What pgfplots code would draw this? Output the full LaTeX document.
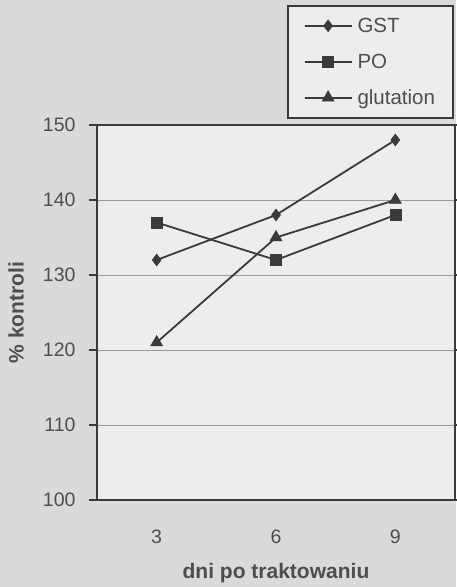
\documentclass[border=0pt]{standalone}
\usepackage{pgfplots}
\pgfplotsset{compat=1.18}
\usepackage{fontspec}
\setmainfont{Liberation Sans}
\definecolor{bgpage}{HTML}{DADADA}
\definecolor{bgplot}{HTML}{EDEDED}
\definecolor{ink}{HTML}{3A3A3A}
\definecolor{gridc}{HTML}{9A9A9A}
\begin{document}
\begin{tikzpicture}
\useasboundingbox (0pt,0pt) rectangle (456pt,587pt);
\fill[bgpage] (0pt,0pt) rectangle (456pt,587pt);
\begin{axis}[
  at={(97pt,87pt)}, anchor=south west,
  width=358pt, height=375pt, scale only axis,
  axis background/.style={fill=bgplot},
  xmin=0.5, xmax=3.5, ymin=100, ymax=150,
  xtick={1,2,3}, xticklabels={3,6,9},
  minor xtick={0.5,1.5,2.5,3.5},
  ytick={100,110,...,150},
  tick align=outside,
  major tick length=8pt, minor tick length=7pt,
  xtick style={draw=none},
  minor x tick style={ink, line width=1.8pt},
  ytick style={ink, line width=1.2pt},
  ymajorgrids, grid style={gridc, line width=0.9pt},
  axis line style={ink, line width=2pt},
  /pgf/number format/assume math mode=true,
  tick label style={font=\fontsize{19.5}{21}\selectfont, text=ink!90},
  xticklabel style={yshift=-18pt},
  yticklabel style={xshift=-10pt},
  xlabel={\bfseries dni po traktowaniu},
  ylabel={\bfseries\% kontroli},
  label style={font=\fontsize{21}{23}\selectfont\bfseries, text=ink!90},
  xlabel style={at={(axis description cs:0.5,0)}, anchor=center, yshift=-73pt},
  ylabel style={at={(axis description cs:0,0.5)}, anchor=center, yshift=81pt},
  legend style={at={(axis description cs:0.997,1.32)}, anchor=north east,
    fill=bgplot, draw=ink, line width=1.8pt,
    font=\fontsize{20.5}{22}\selectfont, text=ink!90,
    row sep=16pt, inner xsep=16pt, inner ysep=10pt,
    nodes={inner sep=2pt}},
  legend cell align=left,
  legend image code/.code={
    \draw[#1] (0pt,0pt) -- (47pt,0pt);
    \draw[#1, mark repeat=2, mark phase=2] plot coordinates {(0pt,0pt) (23.5pt,0pt) (47pt,0pt)};
  },
]
\addplot[ink, line width=1.8pt, mark=diamond*, mark size=6pt, mark options={solid, fill=ink, line width=0.5pt}]
  coordinates {(1,132) (2,138) (3,148)};
\addlegendentry{\hspace{3pt}GST}
\addplot[ink, line width=1.8pt, mark=square*, mark size=5.5pt, mark options={solid, fill=ink, line width=0.5pt}]
  coordinates {(1,137) (2,132) (3,138)};
\addlegendentry{\hspace{3pt}PO}
\addplot[ink, line width=1.8pt, mark=triangle*, mark size=7pt, mark options={solid, fill=ink, line width=0.5pt}]
  coordinates {(1,121) (2,135) (3,140)};
\addlegendentry{\hspace{3pt}glutation}
\end{axis}
\end{tikzpicture}
\end{document}
